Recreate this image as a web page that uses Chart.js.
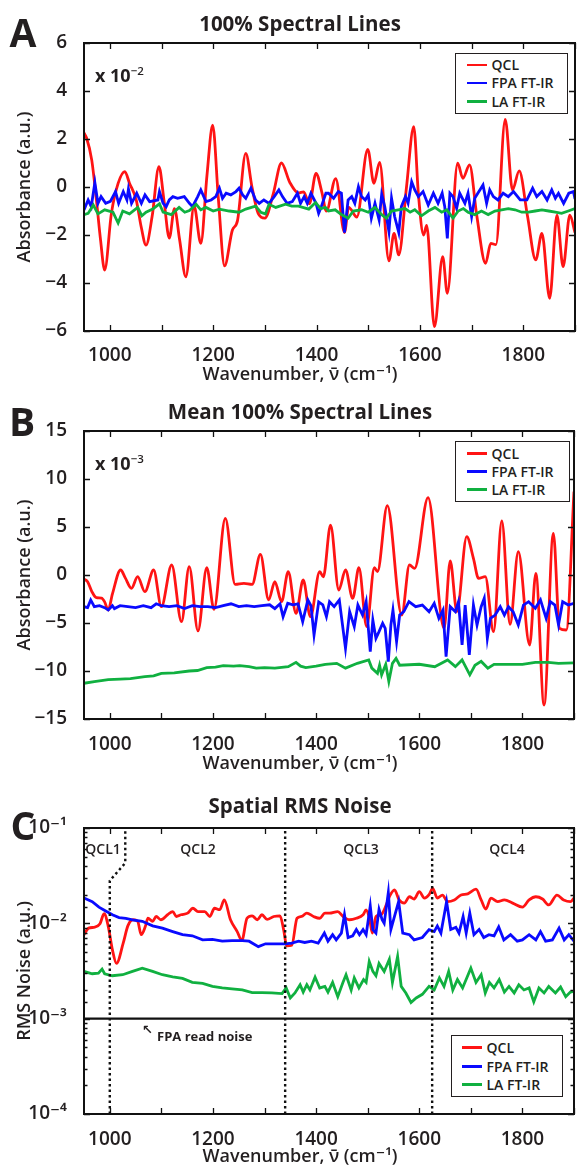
<!DOCTYPE html>
<html><head><meta charset="utf-8">
<script src="https://cdn.jsdelivr.net/npm/chart.js@4.4.1/dist/chart.umd.min.js"></script>
<style>
body{margin:0;background:#fff;}
#wrap{position:relative;width:580px;height:1167px;overflow:hidden;font-family:'Open Sans','DejaVu Sans',sans-serif;color:#231f20;background:#fff;}
canvas{position:absolute;left:0;z-index:1;}
.t{position:absolute;transform:translate(-50%,-50%);white-space:nowrap;line-height:1;z-index:2;}
.letter{font-size:39px;font-weight:700;}
.title{font-size:20.5px;font-weight:700;}
.xt{font-size:18px;font-weight:600;}
.note{position:absolute;font-size:18px;font-weight:700;white-space:nowrap;line-height:1;transform:translateY(-50%);z-index:2;}
.note sup{font-size:11.5px;vertical-align:7px;line-height:0;font-weight:600;}
.small{position:absolute;font-size:14px;font-weight:600;white-space:nowrap;line-height:1;transform:translate(-50%,-50%);z-index:2;}
.legend{position:absolute;border:1.5px solid #231f20;background:#fff;box-sizing:border-box;z-index:2;}
.legend .ln{position:absolute;height:2.8px;width:20px;}
.legend .lt{position:absolute;font-size:14px;font-weight:600;line-height:1;transform:translateY(-50%);white-space:nowrap;}
</style></head>
<body>
<div id="wrap">
  <canvas id="cA" width="580" height="390" style="top:0px"></canvas>
  <canvas id="cB" width="580" height="390" style="top:389px"></canvas>
  <canvas id="cC" width="580" height="388" style="top:779px"></canvas>
</div>
<script>
// ---------------- DATA ----------------
const seriesNames = ['QCL', 'FPA FT-IR', 'LA FT-IR'];
const xLabelValues = [1000, 1200, 1400, 1600, 1800];
const cYLabelValues = [1e-4, 1e-3, 1e-2, 1e-1];
const cYLabels = ['10\u207B\u2074', '10\u207B\u00B3', '10\u207B\u00B2', '10\u207B\u00B9'];

// Panel A (x 10^-2)
const aQcl = [[950,2.25],[955,2.04],[965,1.12],[974,-0.54],[982,-2.2],[990,-3.46],[1003,-1.1],[1016,0.15],[1029,0.64],[1038,0.16],[1051,-0.54],[1061,-1.7],[1070,-2.42],[1082,-1.2],[1095,0.85],[1105,-0.6],[1115,-2.13],[1125,-0.9],[1135,-2.2],[1147,-3.74],[1163,-0.8],[1176,-2.35],[1188,0.5],[1199,2.58],[1210,-0.5],[1222,-3.29],[1237,-1.8],[1247,-1.4],[1263,1.4],[1275,0.0],[1287,-1.1],[1300,-1.3],[1316,-0.3],[1332,1.0],[1348,0.2],[1365,-0.25],[1375,-0.2],[1386,-0.7],[1399,0.57],[1410,-0.2],[1419,-1.0],[1437,0.35],[1454,-1.9],[1462,-0.85],[1478,-1.25],[1499,1.57],[1511,0.15],[1522,1.03],[1540,-3.08],[1550,-1.93],[1559,-2.83],[1574,0.0],[1588,2.51],[1597,-0.3],[1607,-2.0],[1613,-1.6],[1628,-5.82],[1644,-2.9],[1653,-4.43],[1673,0.99],[1683,0.36],[1696,0.92],[1710,-1.2],[1727,-3.18],[1737,-2.35],[1747,-2.4],[1765,2.82],[1779,-0.12],[1792,0.67],[1808,-1.2],[1824,-3.04],[1836,-1.93],[1851,-4.64],[1865,-1.17],[1877,-3.32],[1890,-1.17],[1900,-1.9]];
const aFpa = [[950,-0.96],[958,-0.54],[964,-0.82],[971,0.18],[977,-0.68],[983,-0.4],[992,-0.68],[1001,-0.6],[1011,-0.19],[1017,-0.68],[1026,-0.19],[1033,-0.54],[1036,-0.08],[1042,-0.68],[1052,-0.26],[1061,-0.68],[1068,-0.33],[1077,-0.61],[1093,-0.54],[1096,-0.19],[1103,-0.68],[1109,-0.82],[1115,-0.54],[1122,-0.4],[1131,-0.47],[1144,-0.4],[1154,-0.68],[1160,-0.82],[1170,-0.4],[1176,-0.12],[1186,-0.61],[1196,-0.54],[1205,-0.4],[1212,-0.05],[1218,-0.47],[1225,-0.26],[1234,-0.33],[1244,-0.19],[1250,-0.05],[1257,-0.33],[1263,-0.47],[1273,-0.05],[1282,-0.54],[1289,-0.68],[1298,-0.54],[1308,-0.68],[1318,-0.4],[1327,-0.12],[1334,-0.4],[1343,-0.68],[1353,-0.61],[1363,-0.26],[1369,-0.68],[1376,-0.4],[1382,-0.68],[1389,-0.26],[1399,-0.68],[1404,-1.1],[1408,-0.89],[1418,-0.26],[1423,-0.26],[1433,-0.47],[1442,-0.19],[1448,-0.26],[1454,-1.9],[1461,-0.54],[1468,-0.4],[1474,-0.68],[1481,0.01],[1487,-0.4],[1494,-0.54],[1500,-0.33],[1506,-1.3],[1513,-0.68],[1521,-1.37],[1526,-0.3],[1532,-0.82],[1540,-1.86],[1545,-0.47],[1551,-1.23],[1559,-1.9],[1564,-0.82],[1572,-0.4],[1577,-0.68],[1584,0.22],[1590,-0.12],[1597,-0.4],[1606,-0.19],[1616,-0.75],[1626,-0.26],[1635,-0.68],[1643,-0.26],[1648,-0.82],[1653,-2.14],[1658,-0.26],[1664,-0.4],[1671,-0.89],[1677,-0.26],[1687,-0.68],[1693,-0.26],[1700,-1.23],[1706,-0.47],[1712,-0.26],[1722,0.08],[1729,-0.68],[1735,-0.12],[1742,-0.4],[1751,-0.54],[1761,-0.26],[1771,-0.4],[1781,-0.19],[1794,-0.54],[1807,-0.54],[1818,-0.05],[1826,-0.4],[1836,-0.19],[1846,-0.54],[1855,-0.12],[1862,-0.47],[1868,-0.26],[1878,-0.68],[1888,-0.26],[1897,-0.19],[1900,-0.5]];
const aLa = [[950,-1.15],[958,-1.1],[968,-0.75],[977,-1.12],[990,-0.95],[1006,-1.05],[1016,-1.5],[1025,-1.0],[1038,-1.12],[1054,-0.85],[1062,-1.2],[1070,-1.05],[1083,-0.92],[1096,-0.7],[1103,-1.05],[1119,-1.15],[1134,-0.85],[1145,-1.05],[1154,-0.98],[1167,-0.72],[1176,-0.95],[1186,-0.85],[1200,-1.0],[1212,-0.92],[1231,-1.0],[1250,-1.05],[1263,-0.92],[1282,-0.8],[1292,-1.05],[1301,-1.12],[1308,-0.72],[1321,-0.85],[1340,-0.72],[1352,-0.8],[1365,-0.8],[1385,-0.92],[1398,-0.65],[1408,-0.9],[1417,-0.85],[1423,-1.0],[1436,-0.95],[1448,-1.15],[1461,-1.3],[1471,-1.0],[1487,-0.95],[1500,-1.05],[1513,-0.85],[1526,-1.15],[1535,-1.3],[1545,-1.0],[1558,-0.95],[1571,-0.9],[1581,-1.05],[1590,-0.95],[1603,-1.2],[1616,-1.0],[1629,-0.85],[1642,-1.05],[1652,-0.95],[1664,-1.3],[1674,-1.0],[1684,-0.9],[1693,-1.05],[1706,-1.15],[1719,-1.0],[1732,-1.15],[1745,-1.0],[1758,-0.95],[1771,-0.9],[1784,-0.95],[1797,-1.05],[1810,-1.05],[1823,-1.0],[1836,-0.95],[1849,-1.0],[1862,-1.05],[1874,-1.1],[1887,-1.0],[1900,-0.9]];

// Panel B (x 10^-3)
const bQcl = [[950,-0.42],[957,-0.7],[965,-1.7],[974,-2.36],[984,-2.4],[990,-2.8],[997,-3.65],[1005,-2.0],[1021,0.52],[1030,-0.3],[1042,-1.39],[1054,-0.17],[1068,-1.74],[1085,0.52],[1100,-3.3],[1120,1.04],[1139,-4.86],[1154,0.87],[1171,-5.83],[1188,0.76],[1202,-3.58],[1224,5.9],[1243,-0.97],[1260,-0.87],[1276,-0.97],[1292,2.15],[1308,-2.6],[1320,-0.69],[1333,-2.78],[1346,0.35],[1361,-4.0],[1375,-0.52],[1389,-4.34],[1407,0.35],[1414,-0.2],[1428,5.2],[1444,-1.56],[1457,0.52],[1471,-2.43],[1483,0.76],[1498,-5.38],[1513,0.76],[1519,0.35],[1538,7.22],[1566,-4.17],[1581,1.04],[1591,0.69],[1617,8.06],[1648,-5.56],[1660,1.46],[1673,-3.82],[1692,3.99],[1705,1.74],[1715,-0.35],[1728,-0.17],[1744,-5.9],[1760,5.63],[1776,-5.14],[1792,2.43],[1814,-7.29],[1826,0.17],[1842,-13.54],[1860,4.34],[1872,-5.56],[1885,-5.73],[1900,8.68]];
const bFpa = [[950,-3.3],[957,-3.4],[963,-2.6],[970,-3.3],[980,-3.2],[990,-3.4],[997,-3.65],[1005,-3.2],[1009,-3.5],[1020,-3.2],[1035,-3.3],[1050,-3.4],[1065,-3.2],[1080,-3.4],[1090,-3.0],[1100,-3.2],[1115,-3.3],[1130,-3.2],[1145,-3.5],[1160,-3.2],[1175,-3.3],[1190,-3.3],[1205,-3.4],[1220,-3.2],[1235,-3.0],[1250,-3.3],[1265,-3.2],[1280,-3.3],[1295,-3.2],[1310,-3.1],[1320,-3.5],[1330,-3.0],[1336,-4.34],[1345,-2.95],[1355,-3.1],[1365,-3.0],[1374,-4.86],[1384,-2.6],[1390,-3.2],[1396,-6.25],[1405,-2.8],[1413,-3.1],[1420,-4.34],[1426,-2.78],[1435,-3.3],[1445,-2.6],[1457,-7.64],[1465,-3.82],[1474,-5.38],[1481,-3.13],[1490,-4.17],[1497,-2.78],[1505,-7.99],[1510,-4.69],[1516,-6.6],[1522,-5.9],[1529,-5.03],[1534,-5.56],[1540,-9.03],[1545,-5.2],[1549,-3.65],[1556,-6.94],[1562,-4.17],[1570,-3.82],[1580,-2.78],[1593,-3.3],[1606,-3.13],[1619,-3.82],[1629,-2.95],[1638,-4.51],[1646,-3.65],[1652,-8.51],[1660,-3.3],[1670,-3.82],[1676,-2.78],[1683,-7.29],[1689,-3.13],[1697,-8.33],[1705,-3.13],[1712,-5.2],[1720,-3.3],[1726,-2.43],[1732,-6.6],[1738,-4.51],[1747,-4.17],[1757,-3.3],[1765,-4.17],[1773,-3.3],[1782,-3.82],[1792,-5.2],[1802,-3.13],[1812,-2.78],[1825,-3.47],[1835,-2.6],[1846,-4.51],[1854,-2.78],[1863,-3.13],[1870,-5.2],[1878,-2.78],[1889,-3.13],[1900,-2.95]];
const bLa = [[950,-11.28],[970,-11.1],[997,-10.9],[1020,-10.85],[1040,-10.8],[1068,-10.59],[1085,-10.5],[1100,-10.24],[1125,-10.2],[1154,-10.0],[1170,-9.95],[1188,-9.65],[1205,-9.6],[1220,-9.44],[1240,-9.5],[1252,-9.44],[1270,-9.55],[1284,-9.7],[1300,-9.65],[1320,-9.7],[1346,-9.55],[1361,-9.1],[1370,-9.5],[1380,-9.65],[1400,-9.5],[1418,-9.3],[1440,-9.2],[1457,-9.7],[1480,-9.2],[1502,-8.85],[1508,-9.7],[1519,-10.24],[1523,-9.4],[1527,-10.4],[1535,-9.3],[1541,-11.1],[1548,-9.2],[1555,-8.68],[1562,-9.4],[1600,-9.3],[1630,-9.55],[1655,-8.85],[1670,-9.55],[1683,-8.85],[1698,-10.4],[1708,-9.4],[1720,-9.0],[1733,-9.7],[1745,-9.3],[1770,-9.3],[1800,-9.3],[1825,-9.1],[1850,-9.1],[1870,-9.2],[1900,-9.15]];

// Panel C (RMS noise, a.u.)
const cQcl = [[950,0.0076],[959,0.0089],[971,0.0091],[981,0.0099],[989,0.0126],[997,0.0093],[1005,0.0053],[1013,0.0038],[1026,0.0062],[1035,0.0094],[1045,0.0109],[1054,0.0105],[1061,0.0076],[1069,0.0093],[1074,0.0113],[1083,0.0105],[1090,0.0118],[1099,0.0109],[1112,0.0123],[1122,0.0133],[1129,0.0118],[1138,0.0123],[1151,0.0128],[1161,0.0144],[1171,0.0133],[1184,0.0133],[1194,0.0118],[1203,0.0144],[1213,0.0139],[1222,0.0176],[1234,0.0109],[1247,0.0082],[1256,0.0066],[1266,0.0113],[1276,0.012],[1286,0.0109],[1295,0.0123],[1305,0.011],[1318,0.0118],[1330,0.012],[1337,0.0086],[1343,0.0058],[1353,0.0059],[1363,0.0113],[1372,0.0118],[1382,0.0128],[1395,0.0118],[1407,0.0113],[1417,0.0128],[1426,0.0128],[1442,0.0133],[1452,0.0118],[1465,0.0109],[1478,0.0113],[1491,0.0123],[1497,0.0138],[1504,0.0109],[1509,0.0079],[1516,0.0118],[1526,0.0123],[1536,0.0156],[1542,0.019],[1552,0.0224],[1561,0.0176],[1571,0.0163],[1581,0.019],[1590,0.018],[1600,0.0215],[1610,0.0184],[1619,0.02],[1626,0.0233],[1635,0.0184],[1645,0.0198],[1655,0.0169],[1668,0.0176],[1681,0.0198],[1694,0.0204],[1710,0.0228],[1720,0.0176],[1729,0.0141],[1739,0.0184],[1752,0.0169],[1765,0.0176],[1781,0.0163],[1800,0.0148],[1813,0.0176],[1826,0.019],[1839,0.018],[1851,0.0156],[1867,0.0198],[1880,0.0176],[1893,0.0169],[1900,0.0184]];
const cFpa = [[950,0.0184],[966,0.0169],[979,0.0148],[992,0.0135],[1005,0.0123],[1018,0.0115],[1031,0.0113],[1044,0.0109],[1063,0.0105],[1083,0.0094],[1102,0.0089],[1122,0.0082],[1141,0.0076],[1160,0.0074],[1180,0.0067],[1199,0.0068],[1218,0.0065],[1237,0.0066],[1257,0.0066],[1270,0.0065],[1288,0.0057],[1302,0.0061],[1321,0.0061],[1340,0.0061],[1353,0.0062],[1366,0.0065],[1378,0.0063],[1391,0.0065],[1404,0.0062],[1416,0.0079],[1423,0.0065],[1432,0.0076],[1439,0.0067],[1449,0.0079],[1455,0.0123],[1462,0.0071],[1471,0.0074],[1478,0.0086],[1484,0.0076],[1491,0.0086],[1497,0.0076],[1505,0.0152],[1510,0.0086],[1516,0.0079],[1522,0.014],[1528,0.0109],[1532,0.01],[1540,0.021],[1545,0.0086],[1552,0.0118],[1560,0.0169],[1568,0.0079],[1581,0.0076],[1590,0.0067],[1606,0.0071],[1619,0.0086],[1629,0.0082],[1635,0.0094],[1642,0.0079],[1653,0.0169],[1661,0.0086],[1671,0.0091],[1677,0.0079],[1685,0.0118],[1691,0.0079],[1698,0.0128],[1706,0.0076],[1716,0.0086],[1725,0.0071],[1735,0.0076],[1745,0.0074],[1754,0.0092],[1764,0.0067],[1777,0.0076],[1790,0.0065],[1800,0.0067],[1813,0.0076],[1826,0.0067],[1835,0.0082],[1845,0.0065],[1858,0.0067],[1871,0.0089],[1881,0.0067],[1890,0.0076],[1900,0.0065]];
const cLa = [[950,0.00313],[966,0.00296],[978,0.003],[985,0.00331],[990,0.00296],[1005,0.00282],[1025,0.00289],[1044,0.00313],[1063,0.00339],[1083,0.00313],[1102,0.00289],[1122,0.00275],[1141,0.00264],[1160,0.0024],[1180,0.00235],[1199,0.00218],[1218,0.0021],[1237,0.00205],[1257,0.002],[1276,0.00188],[1295,0.00188],[1314,0.00186],[1334,0.00183],[1342,0.0021],[1350,0.00165],[1359,0.00186],[1369,0.00227],[1375,0.0019],[1382,0.00227],[1388,0.002],[1398,0.00272],[1407,0.0021],[1417,0.00218],[1423,0.0019],[1432,0.0024],[1442,0.0017],[1452,0.0024],[1458,0.00289],[1468,0.002],[1474,0.00268],[1483,0.0021],[1492,0.00257],[1497,0.0024],[1503,0.00398],[1510,0.00313],[1516,0.00282],[1522,0.0038],[1532,0.00313],[1542,0.0042],[1548,0.0024],[1558,0.0045],[1565,0.00218],[1574,0.00186],[1584,0.00148],[1594,0.00165],[1606,0.0018],[1619,0.00218],[1629,0.002],[1639,0.00268],[1648,0.00218],[1657,0.00313],[1665,0.002],[1674,0.00257],[1684,0.0021],[1700,0.00339],[1710,0.0024],[1720,0.00289],[1728,0.00186],[1736,0.0024],[1745,0.0021],[1755,0.00257],[1765,0.0019],[1774,0.00218],[1784,0.00186],[1793,0.00227],[1803,0.002],[1813,0.0021],[1822,0.0015],[1832,0.0021],[1842,0.00186],[1851,0.00218],[1864,0.00186],[1874,0.00215],[1884,0.0017],[1893,0.0019],[1900,0.00194]];
const cBoundaries = [
  [[1000,1e-4],[1000,0.028],[1030,0.043],[1030,0.1]],
  [[1340,1e-4],[1340,0.1]],
  [[1625,1e-4],[1625,0.1]]
];
const cReadNoise = [[950,1e-3],[1900,1e-3]];
const cBandNames = ['QCL1','QCL2','QCL3','QCL4'];

// ---------------- STYLE / HELPERS ----------------
const COLORS = ['#ff1414', '#0a0aff', '#10b040'];
const TXT = '#231f20';
const FONT = "'Open Sans','DejaVu Sans',sans-serif";
const X_TITLE = 'Wavenumber, \u03BD\u0304 (cm\u207B\u00B9)';
const wrap = document.getElementById('wrap');
const pts = arr => arr.map(p => ({x: p[0], y: p[1]}));
const minus = v => (v < 0 ? '\u2212' + Math.abs(v) : String(v));

function series(arr, i, smooth) {
  return {
    label: seriesNames[i], data: pts(arr), borderColor: COLORS[i], borderWidth: 2.8,
    pointRadius: 0, fill: false, order: 3 - i,
    cubicInterpolationMode: smooth ? 'monotone' : 'default', tension: 0
  };
}

const framePlugin = {
  id: 'frame',
  afterDatasetsDraw(chart) {
    const {ctx, chartArea: a, scales} = chart;
    ctx.save();
    ctx.strokeStyle = '#111';
    ctx.lineWidth = 1.3;
    ctx.beginPath();
    scales.x.ticks.forEach(t => {
      if (t.value % 100 !== 0) return;
      const px = Math.round(scales.x.getPixelForValue(t.value)) + 0.5;
      ctx.moveTo(px, a.bottom); ctx.lineTo(px, a.bottom - 6);
      ctx.moveTo(px, a.top); ctx.lineTo(px, a.top + 6);
    });
    const ys = scales.y;
    ys.ticks.forEach(t => {
      const py = Math.round(ys.getPixelForValue(t.value)) + 0.5;
      let L = 6;
      if (ys.type === 'logarithmic') {
        const l = Math.log10(t.value);
        L = Math.abs(l - Math.round(l)) < 1e-6 ? 6 : 3.5;
      }
      ctx.moveTo(a.left, py); ctx.lineTo(a.left + L, py);
      ctx.moveTo(a.right, py); ctx.lineTo(a.right - L, py);
    });
    ctx.stroke();
    ctx.lineWidth = 2;
    ctx.strokeStyle = '#111';
    ctx.strokeRect(a.left, a.top, a.right - a.left, a.bottom - a.top);
    ctx.restore();
  }
};

function makeChart(id, H, plotTop, plotBottom, datasets, yScale, yTitle, xLabelPad) {
  const tickFont = {family: FONT, size: 19, weight: '600'};
  const titleFont = {family: FONT, size: 18, weight: '600', lineHeight: 1.2};
  yScale.ticks = Object.assign({autoSkip: false, padding: 9, color: TXT, font: tickFont}, yScale.ticks);
  yScale.grid = {display: false};
  yScale.border = {display: false};
  yScale.title = {display: true, text: yTitle, color: TXT, font: titleFont, padding: {top: 14, bottom: 0}};
  yScale.afterFit = s => { s.width = 84; };
  return new Chart(document.getElementById(id), {
    type: 'line',
    data: {datasets},
    options: {
      responsive: false, animation: false, events: [],
      layout: {padding: {top: plotTop, right: 2, bottom: 0, left: 0}},
      plugins: {legend: {display: false}, title: {display: false}, tooltip: {enabled: false}},
      scales: {
        x: {
          type: 'linear', min: 950, max: 1900,
          ticks: {stepSize: 100, includeBounds: false, autoSkip: false, maxRotation: 0, minRotation: 0,
                  padding: xLabelPad, color: TXT, font: tickFont,
                  callback: v => (xLabelValues.includes(v) ? String(v) : '')},
          grid: {display: false}, border: {display: false},
          title: {display: false},
          afterFit: s => { s.height = H - plotBottom; }
        },
        y: yScale
      }
    },
    plugins: [framePlugin]
  });
}

// ---------------- CHARTS ----------------
makeChart('cA', 390, 43, 331,
  [series(aQcl, 0, true), series(aFpa, 1, false), series(aLa, 2, false)],
  {type: 'linear', min: -6, max: 6, ticks: {stepSize: 2, callback: v => minus(v)}},
  'Absorbance (a.u.)', 5);

makeChart('cB', 390, 42, 330,
  [series(bQcl, 0, true), series(bFpa, 1, false), series(bLa, 2, false)],
  {type: 'linear', min: -15, max: 15, ticks: {stepSize: 5, callback: v => minus(v)}},
  'Absorbance (a.u.)', 6);

const cSets = [series(cQcl, 0, true), series(cFpa, 1, false), series(cLa, 2, false)];
cBoundaries.forEach(b => cSets.push({label: 'boundary', data: pts(b), borderColor: '#111', borderWidth: 2.4,
  borderDash: [2.5, 3], pointRadius: 0, tension: 0, order: 0}));
cSets.push({label: 'FPA read noise', data: pts(cReadNoise), borderColor: '#111', borderWidth: 2.4,
  pointRadius: 0, tension: 0, order: 0});
makeChart('cC', 388, 49, 335, cSets,
  {type: 'logarithmic', min: 1e-4, max: 1e-1, ticks: {callback: v => {
    const i = cYLabelValues.findIndex(c => Math.abs(v / c - 1) < 1e-6);
    return i >= 0 ? cYLabels[i] : '';
  }}},
  'RMS Noise (a.u.)', 6);

// ---------------- TEXT OVERLAYS ----------------
function addText(cls, html, x, y) {
  const d = document.createElement('div');
  d.className = cls; d.innerHTML = html;
  d.style.left = x + 'px'; d.style.top = y + 'px';
  wrap.appendChild(d);
  return d;
}
addText('t letter', 'A', 23, 31);
addText('t letter', 'B', 22, 420);
addText('t letter', 'C', 23, 824);
addText('t title', '100% Spectral Lines', 300, 23);
addText('t title', 'Mean 100% Spectral Lines', 300, 411);
addText('t title', 'Spatial RMS Noise', 300, 805);
addText('t xt', X_TITLE, 300, 373);
addText('t xt', X_TITLE, 300, 762);
addText('t xt', X_TITLE, 300, 1155);
addText('note', 'x 10<sup>\u22122</sup>', 95, 75);
addText('note', 'x 10<sup>\u22123</sup>', 95, 463);
[103, 198, 361, 507].forEach((x, i) => addText('small', cBandNames[i], x, 849));
addText('note', '\u2196', 142, 1029).style.fontSize = '13px';
addText('note', 'FPA read noise', 157, 1036).style.fontSize = '13px';

function addLegend(left, top, w, h, rowYs, lineX, textX) {
  const box = document.createElement('div');
  box.className = 'legend';
  Object.assign(box.style, {left: left + 'px', top: top + 'px', width: w + 'px', height: h + 'px'});
  seriesNames.forEach((name, i) => {
    const ln = document.createElement('div');
    ln.className = 'ln';
    Object.assign(ln.style, {left: lineX + 'px', top: (rowYs[i] - 1.4) + 'px', background: COLORS[i]});
    const lt = document.createElement('div');
    lt.className = 'lt'; lt.textContent = name;
    Object.assign(lt.style, {left: textX + 'px', top: rowYs[i] + 'px'});
    box.appendChild(ln); box.appendChild(lt);
  });
  wrap.appendChild(box);
}
addLegend(455, 53, 113, 61, [11, 29, 47.5], 10.5, 35.5);
addLegend(455, 441, 115, 61, [11.5, 29.5, 47.5], 10.5, 35.5);
addLegend(451, 1035, 112, 62, [11.5, 30.5, 48.5], 9.5, 34.5);
</script>
</body></html>
